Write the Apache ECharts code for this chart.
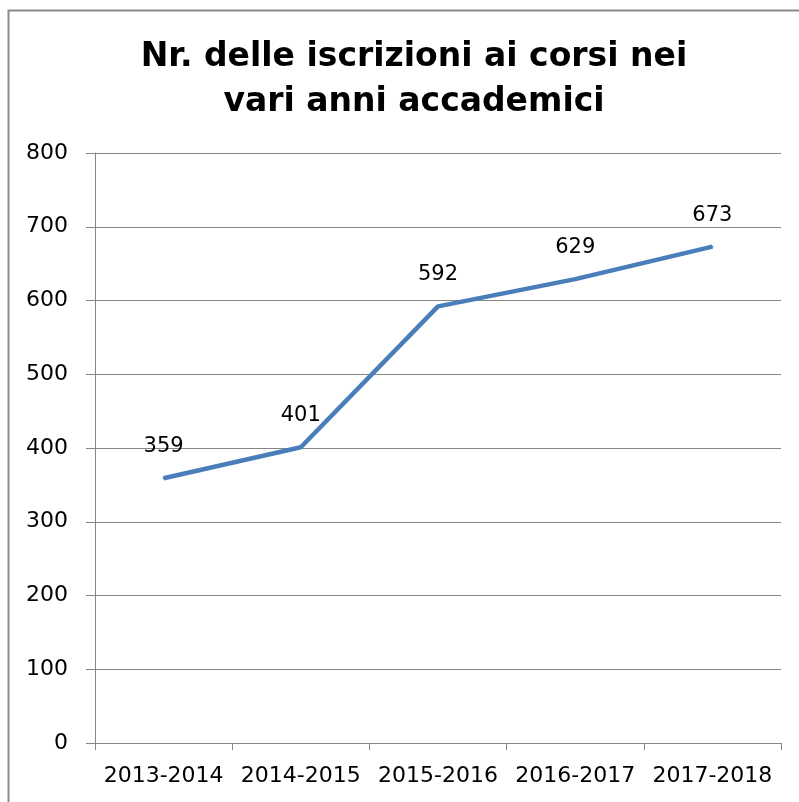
<!DOCTYPE html>
<html>
<head>
<meta charset="utf-8">
<script src="https://cdn.jsdelivr.net/npm/echarts@6/dist/echarts.min.js"></script>
<style>
  html, body { margin: 0; padding: 0; background: #fff; }
  #chart { width: 799px; height: 802px; }
</style>
</head>
<body>
<div id="chart"></div>
<script>
  const titleText = 'Nr. delle iscrizioni ai corsi nei\nvari anni accademici';
  const categories = ['2013-2014', '2014-2015', '2015-2016', '2016-2017', '2017-2018'];
  const iscrizioni = [359, 401, 592, 629, 673];
  const yTicks = [0, 100, 200, 300, 400, 500, 600, 700, 800];

  const font = 'DejaVu Sans, Verdana, sans-serif';
  const myChart = echarts.init(document.getElementById('chart'), null, { renderer: 'canvas' });

  myChart.setOption({
    backgroundColor: '#fff',
    animation: false,
    graphic: [{
      type: 'rect',
      shape: { x: 8.5, y: 10.5, width: 820, height: 820 },
      style: { fill: 'none', stroke: '#8a8a8a', lineWidth: 2 }
    }],
    title: {
      text: titleText,
      left: 409,
      top: 30,
      textAlign: 'center',
      textStyle: {
        fontFamily: font,
        fontWeight: 'bold',
        fontSize: 33,
        lineHeight: 45,
        color: '#000'
      }
    },
    grid: { left: 95, right: 18, top: 153, bottom: 59 },
    xAxis: {
      type: 'category',
      data: categories,
      boundaryGap: true,
      axisLine: { lineStyle: { color: '#868686', width: 1 } },
      axisTick: { show: true, length: 7, lineStyle: { color: '#868686' } },
      axisLabel: { interval: 0, color: '#000', fontFamily: font, fontSize: 22, margin: 22 }
    },
    yAxis: {
      type: 'value',
      min: yTicks[0],
      max: yTicks[yTicks.length - 1],
      interval: 100,
      axisLine: { show: true, lineStyle: { color: '#868686', width: 1 } },
      axisTick: { show: true, length: 9, lineStyle: { color: '#868686' } },
      axisLabel: { color: '#000', fontFamily: font, fontSize: 22, margin: 27 },
      splitLine: { lineStyle: { color: '#868686', width: 1 } }
    },
    series: [{
      type: 'line',
      data: iscrizioni,
      symbol: 'circle',
      symbolSize: 2,
      showSymbol: true,
      itemStyle: { color: '#4a7ebb' },
      lineStyle: { color: '#4a7ebb', width: 4.5 },
      label: {
        show: true,
        position: 'top',
        distance: 20,
        color: '#000',
        fontFamily: font,
        fontSize: 21
      }
    }]
  });
</script>
</body>
</html>
